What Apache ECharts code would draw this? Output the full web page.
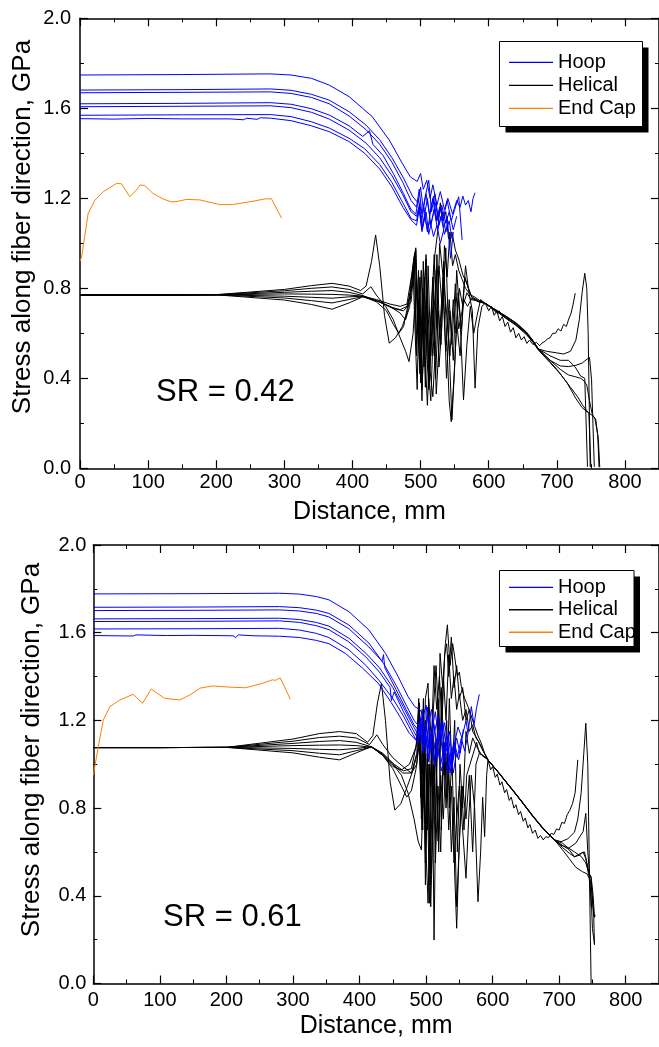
<!DOCTYPE html>
<html><head><meta charset="utf-8">
<script src="https://cdn.jsdelivr.net/npm/echarts@6/dist/echarts.min.js"></script>
<style>html,body{margin:0;padding:0;background:#fff}#c{width:659px;height:1047px}</style>
</head><body><div id="c"></div>
<script>
// ---------- axis settings ----------
const X_MIN = 0, X_MAX = 850, X_STEP = 100;
const Y_MIN = 0, Y_MAX = 2.0, Y_STEP = 0.4;
const xTitle = 'Distance, mm';
const yTitle = 'Stress along fiber direction, GPa';
const legendNames = ['Hoop', 'Helical', 'End Cap'];
const srLabels = ['SR = 0.42', 'SR = 0.61'];

// ---------- TOP chart (SR = 0.42) ----------
const hoopA1 = [[0,1.748],[150,1.750],[280,1.753],[310,1.748],[340,1.733],[366,1.703],[395,1.652],[429,1.563],[454,1.459],[473,1.356],[485,1.295],[495,1.275],[500,1.31],[504,1.24],[509,1.28],[514,1.20],[518,1.26],[524,1.17],[529,1.23],[535,1.15],[540,1.20],[547,1.13],[553,1.19],[558,1.16],[562,1.21],[566,1.17],[570,1.19],[574,1.14],[577,1.20],[580,1.225]];
const hoopA2 = [[0,1.681],[150,1.683],[280,1.686],[310,1.680],[340,1.662],[366,1.636],[395,1.585],[420,1.525],[440,1.46],[458,1.38],[475,1.29],[488,1.21],[496,1.18],[500,1.25],[504,1.15],[508,1.22],[513,1.13],[518,1.20],[523,1.10],[528,1.16],[534,1.12],[539,1.19],[545,1.10],[550,1.15],[556,1.207],[561,1.015]];
const hoopA3 = [[0,1.669],[150,1.671],[280,1.673],[310,1.666],[340,1.648],[366,1.620],[395,1.566],[420,1.505],[440,1.44],[458,1.36],[474,1.27],[486,1.19],[494,1.16],[498,1.24],[502,1.13],[507,1.21],[512,1.28],[516,1.14],[521,1.22],[526,1.11],[531,1.17],[537,1.09],[542,1.14],[548,1.06],[553,1.12]];
const hoopA4 = [[0,1.620],[150,1.622],[280,1.625],[310,1.618],[340,1.598],[366,1.570],[395,1.522],[415,1.475],[425,1.50],[430,1.44],[445,1.39],[460,1.31],[475,1.22],[486,1.15],[493,1.13],[497,1.20],[501,1.09],[505,1.16],[510,1.05],[514,1.13],[519,1.21],[524,1.10],[529,1.16],[534,1.07],[539,1.12],[544,0.933],[548,1.05]];
const hoopA5 = [[0,1.607],[150,1.609],[280,1.611],[310,1.603],[340,1.582],[366,1.552],[395,1.503],[420,1.445],[440,1.38],[458,1.30],[474,1.215],[486,1.14],[494,1.12],[499,1.18],[503,1.07],[508,1.14],[512,1.04],[517,1.11],[522,1.18],[527,1.08],[532,1.14],[537,1.05],[542,1.10],[546,1.02]];
const hoopA6 = [[0,1.569],[150,1.571],[280,1.572],[310,1.563],[340,1.540],[366,1.512],[395,1.467],[418,1.42],[440,1.35],[458,1.27],[474,1.18],[486,1.11],[494,1.10],[498,1.16],[502,1.06],[506,1.13],[510,1.20],[515,1.08],[520,1.15],[525,1.06],[530,1.12],[535,1.04],[540,1.09]];
const hoopA7 = [[0,1.554],[50,1.552],[100,1.555],[150,1.553],[220,1.553],[240,1.549],[245,1.556],[260,1.551],[265,1.558],[280,1.556],[310,1.545],[340,1.522],[366,1.496],[395,1.452],[418,1.40],[440,1.33],[458,1.25],[474,1.16],[486,1.104],[494,1.08],[498,1.15],[502,1.052],[506,1.12],[510,1.06],[514,1.10],[519,1.03],[524,1.08],[529,1.00],[534,1.06]];

const helA1 = [[0,0.77],[100,0.77],[200,0.772],[300,0.795],[340,0.812],[370,0.822],[395,0.81],[412,0.79],[420,0.81],[428,0.92],[434,1.037],[440,0.90],[447,0.68],[454,0.556],[463,0.58],[473,0.629],[481,0.70],[488,0.837],[493,0.97],[497,0.62],[501,0.88],[505,0.45],[509,0.75],[513,0.38],[517,0.66],[521,0.95],[525,1.05],[529,1.18],[533,1.10],[537,1.14],[541,1.02],[546,1.05],[551,0.97],[556,0.93],[562,0.86],[568,0.82],[574,0.77],[580,0.76],[587,0.745],[595,0.733],[610,0.705],[625,0.677],[640,0.647],[655,0.607],[665,0.568],[673,0.53],[685,0.49],[700,0.44],[715,0.38],[728,0.31],[737,0.27],[745,0.25],[752,0.235],[757,0.22],[761,0.126],[763,0.005]];
const helA2 = [[0,0.77],[100,0.77],[200,0.771],[300,0.789],[340,0.800],[370,0.806],[395,0.795],[415,0.775],[427,0.807],[435,0.77],[449,0.718],[460,0.66],[470,0.58],[478,0.52],[483,0.474],[489,0.60],[494,0.85],[498,0.50],[502,0.348],[506,0.62],[510,0.80],[514,0.43],[518,0.318],[522,0.55],[527,0.90],[532,0.70],[537,0.98],[541,0.60],[546,0.215],[550,0.45],[555,0.78],[560,0.62],[565,0.85],[570,0.80],[576,0.755],[586,0.74],[595,0.733],[610,0.70],[625,0.67],[640,0.638],[655,0.60],[665,0.565],[673,0.53],[685,0.52],[700,0.513],[710,0.508],[720,0.52],[728,0.57],[733,0.66],[737,0.778],[741,0.867],[744,0.80],[746,0.60],[749,0.007]];
const helA3 = [[0,0.77],[100,0.77],[200,0.771],[300,0.782],[340,0.787],[370,0.790],[395,0.782],[415,0.768],[435,0.745],[455,0.718],[470,0.705],[480,0.72],[487,0.80],[492,0.96],[495,0.70],[499,0.42],[503,0.80],[507,0.36],[511,0.90],[515,0.50],[519,0.72],[523,0.33],[528,0.60],[533,0.85],[538,0.40],[543,0.70],[548,0.48],[553,0.88],[558,0.66],[563,0.304],[568,0.55],[573,0.72],[578,0.60],[583,0.68],[588,0.75],[595,0.733],[605,0.71],[612,0.69],[615,0.70],[620,0.68],[628,0.66],[640,0.64],[655,0.60],[665,0.562],[673,0.53],[690,0.48],[705,0.455],[717,0.452],[728,0.458],[737,0.467],[743,0.482],[748,0.493],[751,0.393],[753,0.20],[755,0.007]];
const helA4 = [[0,0.77],[100,0.77],[200,0.771],[300,0.775],[340,0.774],[370,0.773],[395,0.770],[415,0.765],[435,0.75],[455,0.73],[470,0.72],[480,0.73],[487,0.86],[491,0.95],[494,0.55],[497,0.88],[500,0.38],[504,0.75],[508,0.93],[512,0.40],[516,0.70],[520,0.50],[524,0.95],[528,0.58],[533,0.78],[537,0.52],[542,0.75],[546,0.55],[551,0.82],[556,0.62],[561,0.70],[566,0.90],[571,0.78],[576,0.70],[580,0.356],[584,0.62],[590,0.72],[595,0.733],[600,0.70],[604,0.72],[608,0.68],[612,0.70],[616,0.655],[620,0.675],[624,0.63],[628,0.65],[632,0.605],[636,0.625],[640,0.58],[644,0.60],[648,0.57],[652,0.585],[656,0.555],[660,0.57],[665,0.55],[670,0.56],[675,0.545],[678,0.556],[683,0.565],[686,0.575],[690,0.58],[694,0.60],[698,0.60],[702,0.62],[706,0.61],[710,0.64],[714,0.63],[717,0.659],[721,0.69],[724,0.73],[727,0.778]];
const helA5 = [[0,0.77],[100,0.77],[200,0.771],[300,0.765],[340,0.76],[370,0.756],[395,0.762],[415,0.765],[435,0.74],[450,0.70],[460,0.64],[468,0.60],[475,0.63],[483,0.75],[490,0.93],[493,0.98],[496,0.60],[499,0.85],[502,0.30],[505,0.70],[508,0.95],[511,0.45],[515,0.30],[519,0.65],[523,0.88],[527,0.45],[531,0.62],[535,0.99],[539,0.85],[543,1.05],[547,0.90],[551,0.95],[556,0.88],[561,0.84],[566,0.80],[571,0.78],[576,0.76],[585,0.745],[595,0.733],[610,0.703],[625,0.673],[640,0.645],[655,0.605],[665,0.566],[673,0.53],[690,0.48],[705,0.44],[717,0.415],[727,0.407],[735,0.40],[740,0.388],[744,0.37],[748,0.30],[752,0.24],[756,0.22],[760,0.15],[762,0.005]];
const helA6 = [[0,0.77],[100,0.77],[200,0.771],[300,0.757],[340,0.745],[370,0.735],[395,0.750],[415,0.763],[435,0.745],[455,0.72],[470,0.69],[478,0.66],[484,0.72],[489,0.88],[492,0.60],[495,0.35],[498,0.80],[501,0.55],[504,0.92],[507,0.48],[510,0.28],[514,0.60],[518,0.85],[522,0.40],[526,0.70],[530,0.55],[534,0.92],[538,0.60],[542,0.30],[545,0.207],[549,0.40],[553,0.65],[558,0.50],[563,0.75],[569,0.72],[575,0.755],[585,0.74],[595,0.733],[610,0.70],[625,0.668],[640,0.635],[655,0.595],[665,0.56],[673,0.525],[690,0.47],[705,0.42],[720,0.36],[730,0.32],[738,0.28],[743,0.26],[747,0.245],[750,0.005]];
const helA7 = [[0,0.77],[100,0.77],[200,0.771],[300,0.748],[340,0.728],[370,0.707],[395,0.735],[415,0.762],[440,0.74],[460,0.71],[475,0.70],[486,0.74],[491,0.90],[494,0.50],[497,0.75],[500,0.40],[503,0.62],[506,0.85],[509,0.52],[512,0.35],[516,0.70],[520,0.95],[524,0.62],[528,1.00],[533,0.85],[538,0.70],[543,0.50],[548,0.75],[552,0.60],[557,0.80],[562,0.72],[568,0.78],[574,0.75],[582,0.745],[595,0.733],[610,0.705],[625,0.676],[640,0.645],[655,0.605],[665,0.565],[673,0.53],[690,0.50],[705,0.48],[717,0.48],[727,0.45],[735,0.41],[741,0.40],[745,0.007]];

const capA = [[0,0.92],[2.4,0.94],[12,1.133],[22,1.192],[34,1.229],[54,1.267],[61,1.264],[73,1.207],[83,1.237],[88,1.259],[95,1.257],[107,1.222],[122,1.197],[134,1.184],[141,1.185],[156,1.195],[176,1.193],[205,1.172],[224,1.172],[254,1.187],[271,1.197],[281,1.198],[296,1.111]];

// ---------- BOTTOM chart (SR = 0.61) ----------
const hoopB1 = [[0,1.777],[150,1.778],[280,1.780],[310,1.776],[335,1.765],[354,1.750],[384,1.696],[414,1.613],[439,1.506],[458,1.40],[473,1.308],[483,1.263],[491,1.248],[496,1.22],[500,1.27],[504,1.18],[508,1.25],[513,1.15],[518,1.22],[523,1.12],[528,1.19],[533,1.08],[538,0.98],[543,1.10],[548,1.17],[554,1.12],[560,1.20],[563,1.14],[568,1.263],[572,1.18],[576,1.26],[580,1.319]];
const hoopB2 = [[0,1.716],[150,1.717],[280,1.719],[310,1.714],[335,1.703],[354,1.688],[384,1.635],[414,1.553],[436,1.46],[455,1.36],[470,1.27],[482,1.20],[490,1.17],[494,1.25],[498,1.12],[502,1.22],[507,1.08],[511,1.19],[516,1.10],[521,1.18],[526,1.05],[531,1.13],[536,1.00],[541,1.09],[547,1.03],[553,1.12],[558,1.06],[563,1.14]];
const hoopB3 = [[0,1.701],[150,1.702],[280,1.704],[310,1.699],[335,1.688],[354,1.672],[384,1.618],[414,1.535],[434,1.47],[436,1.50],[438,1.44],[455,1.34],[470,1.25],[482,1.18],[490,1.15],[494,1.22],[498,1.10],[502,1.26],[506,1.12],[511,1.20],[516,1.06],[521,1.15],[526,1.02],[531,1.10],[536,0.96],[541,1.06],[546,1.12],[551,1.05],[556,1.16]];
const hoopB4 = [[0,1.663],[150,1.664],[280,1.666],[310,1.660],[335,1.647],[354,1.630],[384,1.575],[410,1.505],[430,1.44],[450,1.35],[466,1.26],[478,1.19],[487,1.14],[492,1.21],[496,1.10],[500,1.19],[505,1.07],[509,1.16],[514,1.24],[519,1.10],[524,1.18],[529,1.04],[534,1.12],[539,0.99],[544,1.08],[549,1.02],[554,1.10]];
const hoopB5 = [[0,1.651],[150,1.652],[280,1.654],[310,1.647],[335,1.632],[354,1.614],[384,1.558],[410,1.488],[430,1.42],[446,1.35],[448,1.29],[452,1.33],[466,1.24],[478,1.17],[487,1.12],[492,1.19],[496,1.08],[500,1.17],[505,1.05],[510,1.14],[515,1.03],[520,1.12],[525,1.20],[530,1.08],[535,1.15],[540,1.02],[545,1.10]];
const hoopB6 = [[0,1.617],[150,1.618],[280,1.620],[310,1.612],[335,1.597],[354,1.578],[384,1.522],[410,1.45],[430,1.38],[450,1.30],[466,1.22],[478,1.15],[487,1.10],[491,1.17],[495,1.06],[499,1.15],[503,1.03],[508,1.12],[512,1.02],[517,1.10],[522,1.00],[527,1.08],[532,0.98],[537,1.05],[541,0.96],[545,1.04]];
const hoopB7 = [[0,1.587],[60,1.585],[64,1.590],[110,1.587],[150,1.588],[210,1.586],[214,1.578],[218,1.590],[240,1.586],[243,1.592],[280,1.584],[310,1.578],[335,1.565],[354,1.550],[379,1.505],[404,1.44],[428,1.37],[448,1.28],[462,1.21],[475,1.14],[488,1.10],[492,1.16],[496,1.05],[500,1.13],[504,1.01],[508,1.09],[513,0.99],[518,1.06],[523,0.97],[528,1.04],[533,0.959],[538,1.02]];

const helB1 = [[0,1.076],[100,1.076],[200,1.077],[300,1.115],[340,1.140],[370,1.149],[395,1.14],[412,1.10],[420,1.13],[427,1.28],[433,1.37],[439,1.20],[446,0.92],[453,0.791],[462,0.82],[472,0.90],[480,0.97],[487,1.05],[491,1.20],[495,0.80],[499,1.30],[503,1.37],[507,0.90],[511,1.25],[515,1.45],[519,1.20],[521,1.506],[525,1.35],[529,1.55],[532,1.636],[536,1.45],[540,1.55],[543,1.49],[547,1.40],[550,1.42],[553,1.354],[558,1.30],[563,1.263],[568,1.22],[573,1.172],[578,1.13],[583,1.096],[588,1.05],[593,1.02],[610,0.96],[628,0.89],[645,0.825],[660,0.765],[675,0.71],[693,0.655],[703,0.63],[713,0.62],[723,0.60],[733,0.58],[740,0.55],[745,0.50],[748,0.487],[751,0.40],[753,0.305],[755,0.31]];
const helB2 = [[0,1.076],[100,1.076],[200,1.077],[300,1.105],[340,1.122],[370,1.128],[395,1.12],[415,1.09],[426,1.134],[435,1.09],[450,1.03],[465,0.99],[478,0.96],[486,1.00],[490,1.15],[494,0.70],[497,1.10],[500,0.60],[503,0.366],[506,0.80],[510,1.20],[514,0.75],[518,1.30],[522,1.10],[526,1.40],[530,1.20],[534,1.50],[538,1.30],[542,1.40],[546,1.25],[550,1.32],[555,1.20],[560,1.25],[565,1.15],[570,1.18],[575,1.12],[580,1.10],[586,1.06],[593,1.02],[610,0.958],[628,0.89],[645,0.826],[660,0.766],[675,0.71],[693,0.655],[705,0.64],[714,0.617],[725,0.64],[731,0.67],[736,0.693],[740,0.776],[743,0.60],[746,0.487],[748,0.35]];
const helB3 = [[0,1.076],[100,1.076],[200,1.077],[300,1.095],[340,1.104],[370,1.108],[395,1.10],[418,1.08],[435,1.04],[450,0.99],[463,0.974],[475,1.00],[485,1.08],[489,1.25],[492,0.85],[496,1.30],[499,0.55],[502,1.05],[506,0.45],[509,1.15],[512,0.198],[515,0.90],[519,1.20],[523,0.70],[527,1.10],[531,0.85],[535,1.30],[539,0.95],[543,1.20],[547,0.60],[551,1.00],[555,0.80],[560,1.15],[565,1.05],[570,1.12],[576,1.08],[584,1.04],[593,1.02],[610,0.957],[628,0.888],[645,0.824],[660,0.764],[675,0.709],[693,0.655],[705,0.63],[715,0.61],[723,0.578],[730,0.585],[736,0.60],[740,0.57],[744,0.50],[748,0.45],[752,0.30],[753,0.176]];
const helB4 = [[0,1.076],[100,1.076],[200,1.077],[300,1.085],[340,1.087],[370,1.088],[395,1.085],[418,1.078],[435,1.045],[450,1.00],[465,0.96],[478,0.96],[486,1.05],[490,1.28],[493,0.75],[496,1.15],[499,0.60],[503,1.00],[507,0.35],[511,0.80],[515,1.10],[519,0.60],[523,1.35],[527,0.95],[531,1.20],[535,0.80],[539,1.05],[543,0.50],[546,0.252],[549,0.55],[553,0.90],[557,0.70],[561,0.95],[566,1.00],[571,1.05],[576,1.10],[580,1.05],[585,1.04],[590,1.03],[593,1.02],[597,0.975],[600,0.99],[604,0.94],[607,0.955],[611,0.905],[614,0.92],[618,0.87],[621,0.885],[625,0.835],[628,0.85],[632,0.80],[635,0.815],[639,0.77],[642,0.785],[646,0.74],[649,0.755],[653,0.71],[656,0.725],[660,0.685],[664,0.70],[668,0.662],[672,0.675],[676,0.655],[680,0.67],[684,0.665],[688,0.685],[692,0.68],[696,0.705],[700,0.70],[704,0.735],[708,0.73],[712,0.77],[716,0.79],[720,0.82],[724,0.87],[728,1.02]];
const helB5 = [[0,1.076],[100,1.076],[200,1.077],[300,1.072],[340,1.068],[370,1.066],[395,1.072],[418,1.08],[435,1.05],[452,1.00],[466,0.97],[478,0.98],[486,1.10],[489,1.30],[492,0.90],[495,0.70],[498,1.15],[501,0.80],[504,1.30],[508,1.10],[512,1.45],[516,1.25],[520,1.40],[524,1.20],[528,1.50],[531,1.55],[534,1.40],[538,1.58],[542,1.35],[546,1.45],[550,1.30],[555,1.35],[560,1.20],[565,1.25],[570,1.15],[576,1.12],[584,1.07],[593,1.02],[610,0.958],[628,0.892],[645,0.826],[660,0.767],[675,0.712],[693,0.655],[703,0.647],[713,0.66],[723,0.69],[728,0.75],[733,0.868],[737,1.05],[740,1.187],[743,1.00],[745,0.60],[747,0.20],[748,0.0]];
const helB6 = [[0,1.076],[100,1.076],[200,1.077],[300,1.062],[340,1.050],[370,1.043],[395,1.062],[418,1.078],[435,1.045],[450,1.00],[463,0.95],[473,0.868],[482,0.75],[488,0.65],[493,0.609],[496,0.90],[499,1.20],[502,0.70],[505,1.00],[508,0.50],[511,0.85],[514,1.10],[518,0.65],[522,0.95],[526,0.75],[530,1.05],[534,0.70],[538,0.90],[542,0.55],[546,0.75],[550,0.90],[555,0.70],[560,0.48],[564,0.75],[568,0.95],[573,0.80],[578,0.373],[582,0.60],[585,0.85],[588,0.67],[591,0.95],[593,1.02],[610,0.957],[628,0.89],[645,0.825],[660,0.765],[675,0.71],[693,0.655],[705,0.62],[715,0.595],[723,0.578],[730,0.59],[738,0.60],[741,0.56],[745,0.503],[748,0.48],[751,0.35],[753,0.30]];
const helB7 = [[0,1.076],[100,1.076],[200,1.077],[300,1.052],[340,1.032],[370,1.020],[395,1.052],[418,1.080],[435,1.04],[450,0.98],[463,0.90],[471,0.85],[478,0.88],[485,0.98],[490,1.10],[493,0.85],[496,1.25],[499,0.45],[502,0.90],[505,0.366],[508,0.70],[511,1.00],[514,0.55],[518,0.90],[522,0.60],[526,1.10],[530,0.80],[534,1.00],[538,0.60],[542,0.85],[546,0.35],[550,0.65],[555,0.90],[560,0.75],[565,0.95],[570,0.60],[575,1.00],[580,1.05],[586,1.04],[593,1.02],[610,0.958],[628,0.89],[645,0.823],[660,0.763],[675,0.708],[693,0.655],[705,0.61],[715,0.57],[725,0.53],[735,0.51],[742,0.50],[745,0.48],[748,0.40],[750,0.25],[753,0.18]];

const capB = [[0,0.95],[1.5,0.959],[7.5,1.08],[15,1.202],[25,1.263],[40,1.293],[60,1.319],[74,1.278],[87,1.343],[90,1.345],[107,1.301],[130,1.293],[147,1.319],[160,1.347],[179,1.357],[209,1.351],[229,1.349],[254,1.369],[269,1.385],[274,1.383],[281,1.394],[296,1.297]];

// ---------- rendering ----------
const FONT = '"Liberation Sans", Arial, Helvetica, sans-serif';
const BLUE = '#0000ff', BLACK = '#000000', ORANGE = '#ff8000';

const grids = [
  {left: 80, top: 18.3, width: 580.8, height: 450},
  {left: 93.3, top: 545, width: 568.7, height: 438.5}
];

function xAx(gi, pos, show, gap, margin) {
  return {
    type: 'value', gridIndex: gi, position: pos, min: X_MIN, max: X_MAX, interval: X_STEP,
    axisLine: {show: true, onZero: false, lineStyle: {color: '#000', width: 1.5}},
    axisTick: {show: true, inside: true, length: 8, lineStyle: {color: '#000', width: 1.2}},
    minorTick: {show: true, splitNumber: 2, length: 4, lineStyle: {color: '#000', width: 1}},
    splitLine: {show: false}, minorSplitLine: {show: false},
    axisLabel: {show: show, margin: margin, fontSize: 20, color: '#000', fontFamily: FONT, showMaxLabel: false},
    name: show ? xTitle : '', nameLocation: 'middle', nameGap: gap,
    nameTextStyle: {fontSize: 25, color: '#000', fontFamily: FONT}
  };
}
function yAx(gi, pos, show, margin) {
  return {
    type: 'value', gridIndex: gi, position: pos, min: Y_MIN, max: Y_MAX, interval: Y_STEP,
    axisLine: {show: true, onZero: false, lineStyle: {color: '#000', width: 1.5}},
    axisTick: {show: true, inside: true, length: 8, lineStyle: {color: '#000', width: 1.2}},
    minorTick: {show: true, splitNumber: 2, length: 4, lineStyle: {color: '#000', width: 1}},
    splitLine: {show: false}, minorSplitLine: {show: false},
    axisLabel: {show: show, margin: margin, fontSize: 20, color: '#000', fontFamily: FONT,
      formatter: v => v.toFixed(1)}
  };
}

function ln(name, data, color, gi) {
  return {
    type: 'line', name: name, data: data, xAxisIndex: gi * 2, yAxisIndex: gi * 2,
    symbol: 'none', showSymbol: false, silent: true, animation: false,
    lineStyle: {width: 1, color: color}, itemStyle: {color: color}
  };
}

const series = [];
[helA1, helA2, helA3, helA4, helA5, helA6, helA7].forEach(d => series.push(ln('Helical', d, BLACK, 0)));
[hoopA1, hoopA2, hoopA3, hoopA4, hoopA5, hoopA6, hoopA7].forEach(d => series.push(ln('Hoop', d, BLUE, 0)));
series.push(ln('End Cap', capA, ORANGE, 0));
[helB1, helB2, helB3, helB4, helB5, helB6, helB7].forEach(d => series.push(ln('Helical', d, BLACK, 1)));
[hoopB1, hoopB2, hoopB3, hoopB4, hoopB5, hoopB6, hoopB7].forEach(d => series.push(ln('Hoop', d, BLUE, 1)));
series.push(ln('End Cap', capB, ORANGE, 1));

function lg(left, top, gap) {
  return {
    data: legendNames, orient: 'vertical', left: left, top: top,
    icon: 'rect', itemWidth: 44, itemHeight: 1.4, itemGap: gap, padding: 0,
    selectedMode: false, z: 20,
    textStyle: {fontSize: 20, color: '#000', fontFamily: FONT}
  };
}
function legendBox(x, y, w, h) {
  return [
    {type: 'rect', shape: {x: x + 6, y: y + 6, width: w, height: h}, style: {fill: '#000'}, z: 10, silent: true},
    {type: 'rect', shape: {x: x, y: y, width: w, height: h}, style: {fill: '#fff', stroke: '#000', lineWidth: 1}, z: 11, silent: true}
  ];
}
function yName(x, y, text) {
  return {type: 'text', x: x, y: y, rotation: Math.PI / 2, silent: true, z: 5,
    style: {text: text, font: '26px ' + FONT, fill: '#000', align: 'center', verticalAlign: 'middle'}};
}

const chart = echarts.init(document.getElementById('c'), null, {renderer: 'canvas'});
chart.setOption({
  animation: false,
  backgroundColor: '#fff',
  grid: grids,
  xAxis: [xAx(0, 'bottom', true, 31, 4), xAx(0, 'top', false, 0, 0), xAx(1, 'bottom', true, 30, 7), xAx(1, 'top', false, 0, 0)],
  yAxis: [yAx(0, 'left', true, 9), yAx(0, 'right', false, 0), yAx(1, 'left', true, 7), yAx(1, 'right', false, 0)],
  legend: [lg(509, 52.4, 3), lg(509, 577.4, 2.4)],
  graphic: [].concat(
    legendBox(499.5, 41.5, 143, 85),
    legendBox(499.5, 570.5, 134.5, 76),
    [
      yName(22.5, 227, yTitle),
      yName(31.5, 750, yTitle),
      {type: 'text', x: 156, y: 392, silent: true, style: {text: srLabels[0], font: '31px ' + FONT, fill: '#000', align: 'left', verticalAlign: 'middle'}},
      {type: 'text', x: 163, y: 917, silent: true, style: {text: srLabels[1], font: '31px ' + FONT, fill: '#000', align: 'left', verticalAlign: 'middle'}}
    ]
  ),
  series: series
});
</script></body></html>
